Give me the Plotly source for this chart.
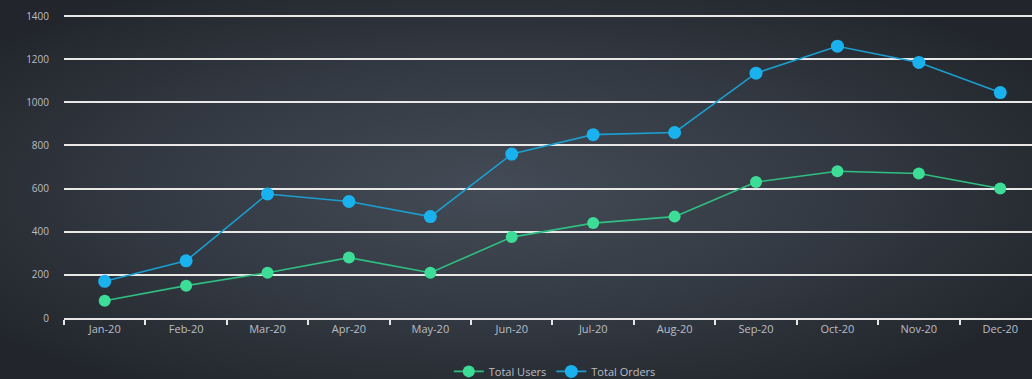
import urllib.parse
import plotly.graph_objects as go

months = ["Jan-20", "Feb-20", "Mar-20", "Apr-20", "May-20", "Jun-20",
          "Jul-20", "Aug-20", "Sep-20", "Oct-20", "Nov-20", "Dec-20"]
total_users = [80, 150, 210, 280, 210, 375, 440, 470, 630, 680, 670, 600]
total_orders = [170, 265, 575, 540, 470, 760, 850, 860, 1135, 1260, 1185, 1045]
y_ticks = [0, 200, 400, 600, 800, 1000, 1200, 1400]

W, H = 1032, 379
ML, MT, MB = 64, 13, 61
PW, PH = W - ML, H - MT - MB

# dark radial backdrop, lighter toward the middle
svg = (
    f'<svg xmlns="http://www.w3.org/2000/svg" width="{W}" height="{H}" '
    f'viewBox="0 0 {W} {H}" preserveAspectRatio="none">'
    '<defs><radialGradient id="g" cx="48%" cy="50%" r="62%">'
    '<stop offset="0%" stop-color="#434b56"/>'
    '<stop offset="55%" stop-color="#333942"/>'
    '<stop offset="100%" stop-color="#22262c"/>'
    '</radialGradient></defs>'
    f'<rect width="{W}" height="{H}" fill="url(#g)"/></svg>'
)
bg_src = "data:image/svg+xml;charset=utf-8," + urllib.parse.quote(svg)

fig = go.Figure()
fig.add_trace(go.Scatter(
    x=months, y=total_users, name="Total Users", mode="lines+markers",
    line=dict(color="#2fbf82", width=1.6),
    marker=dict(color="#3ddc97", size=12),
))
fig.add_trace(go.Scatter(
    x=months, y=total_orders, name="Total Orders", mode="lines+markers",
    line=dict(color="#1a9fd0", width=1.6),
    marker=dict(color="#19b2ee", size=13),
))

fig.update_layout(
    width=W, height=H,
    margin=dict(l=ML, r=0, t=MT, b=MB, autoexpand=False),
    paper_bgcolor="#2a2e35",
    plot_bgcolor="rgba(0,0,0,0)",
    font=dict(family="Open Sans, sans-serif", color="#b9bec5", size=11),
    images=[dict(
        source=bg_src, xref="paper", yref="paper",
        x=-ML / PW, y=1 + MT / PH, sizex=W / PW, sizey=H / PH,
        xanchor="left", yanchor="top", sizing="stretch", layer="below",
    )],
    showlegend=True,
    legend=dict(
        orientation="h", x=0.507, xanchor="center", y=-0.175, yanchor="middle",
        font=dict(size=11, color="#b9bec5"), bgcolor="rgba(0,0,0,0)",
    ),
    xaxis=dict(
        type="category", range=[-0.5, 11.39],
        showgrid=False, showline=True, linecolor="#e6e6e6", linewidth=2,
        ticks="outside", tickson="boundaries", ticklen=5, tickcolor="#e6e6e6",
        tickwidth=2, tickfont=dict(size=11, color="#b9bec5"),
        fixedrange=True,
    ),
    yaxis=dict(
        range=[0, 1414], tickvals=y_ticks,
        showgrid=True, gridcolor="#e8e8e8", gridwidth=2,
        zeroline=False, showline=False, ticks="",
        ticklabelstandoff=14,
        tickfont=dict(size=10, color="#b9bec5"),
    ),
)

fig.write_html("out.html")
